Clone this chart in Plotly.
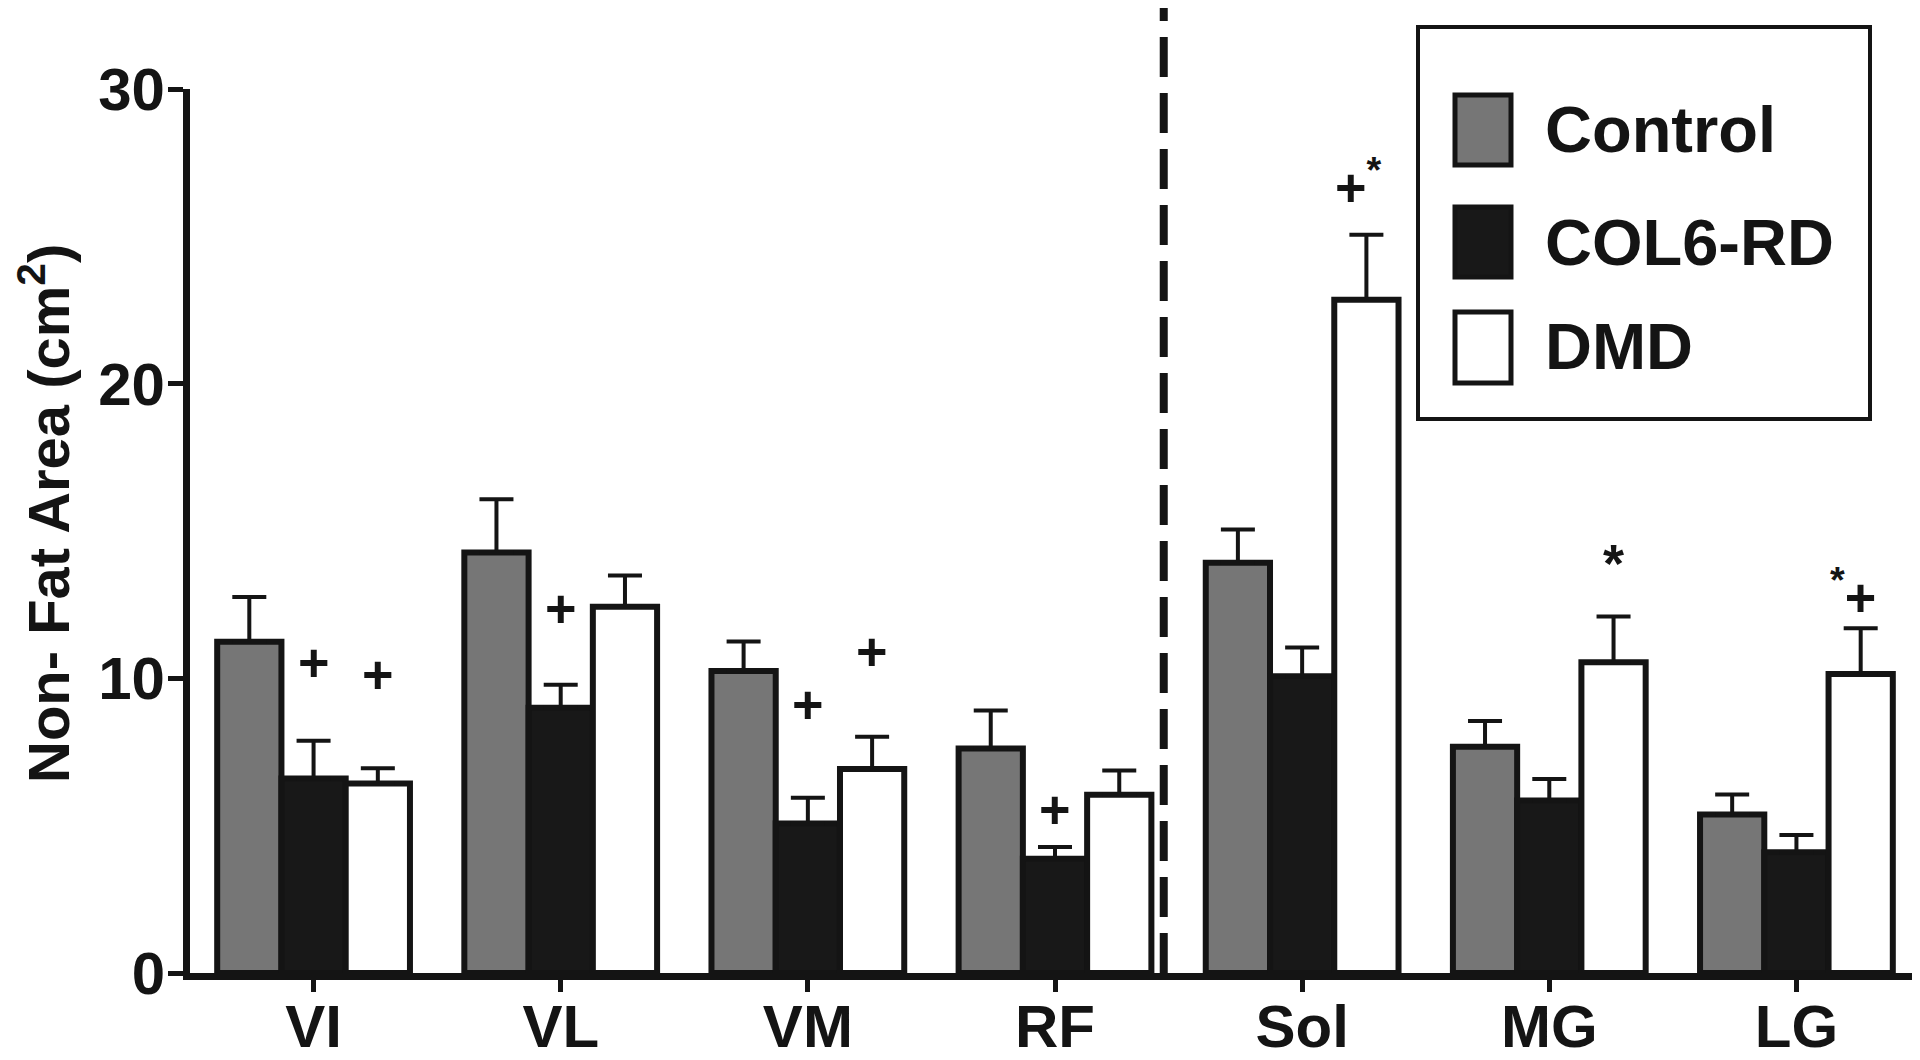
import plotly.graph_objects as go

categories = ["VI", "VL", "VM", "RF", "Sol", "MG", "LG"]
series_names = ["Control", "COL6-RD", "DMD"]

control = [11.24, 14.27, 10.25, 7.62, 13.92, 7.68, 5.38]
control_err = [1.52, 1.81, 1.0, 1.29, 1.13, 0.87, 0.68]
col6 = [6.6, 9.0, 5.07, 3.88, 10.07, 5.85, 4.1]
col6_err = [1.28, 0.78, 0.88, 0.4, 0.98, 0.73, 0.58]
dmd = [6.43, 12.43, 6.92, 6.05, 22.85, 10.55, 10.15]
dmd_err = [0.52, 1.06, 1.1, 0.82, 2.2, 1.55, 1.55]

y_ticks = [0, 10, 20, 30]
y_title = "Non- Fat Area (cm<sup>2</sup>)"

# significance marks: category, series, height, label
sig_category = ["VI", "VI", "VL", "VM", "VM", "RF", "Sol", "MG", "LG"]
sig_series = ["COL6-RD", "DMD", "COL6-RD", "COL6-RD", "DMD", "COL6-RD", "DMD", "DMD", "DMD"]
sig_y = [10.55, 10.14, 12.4, 9.14, 10.93, 5.58, 26.8, 13.9, 12.9]
sig_text = ["+", "+", "+", "+", "+", "+", "+<sup>*</sup>", "*", "<sup>*</sup>+"]

FONT = "Liberation Sans, Arial, Helvetica, sans-serif"
INK = "#141414"
colors = ["#767676", "#181818", "#ffffff"]
values = [control, col6, dmd]
errors = [control_err, col6_err, dmd_err]

fig = go.Figure()
for name, vals, errs, col in zip(series_names, values, errors, colors):
    fig.add_trace(go.Bar(
        name=name, x=categories, y=vals,
        marker=dict(color=col, line=dict(color=INK, width=6)),
        error_y=dict(type="data", array=errs, arrayminus=[0] * len(errs),
                     symmetric=False, color=INK, thickness=4, width=17),
        showlegend=False,
    ))

bargap = 0.22
bar_w = (1 - bargap) / 3
offsets = {n: (i - 1) * bar_w for i, n in enumerate(series_names)}
xshift_extra = {"<sup>*</sup>+": -8, "+<sup>*</sup>": -8}

annotations = []
for c, s, yv, t in zip(sig_category, sig_series, sig_y, sig_text):
    annotations.append(dict(
        x=categories.index(c) + offsets[s], y=yv, xref="x", yref="y",
        text=t, showarrow=False, xanchor="center", yanchor="middle",
        xshift=xshift_extra.get(t, 0),
        font=dict(family=FONT, size=54, color=INK, weight="bold"),
    ))

# page coordinates (window px) -> paper coordinates
def px_to_paper_x(px):
    return (px - 190) / 1730

def px_to_paper_y(py):
    return (973 - py) / 884

# y-axis title
annotations.append(dict(
    x=px_to_paper_x(45), y=px_to_paper_y(514), xref="paper", yref="paper",
    text=y_title, textangle=-90, showarrow=False,
    xanchor="center", yanchor="middle",
    font=dict(family=FONT, size=58, color=INK, weight="bold"),
))

shapes = [
    dict(type="line", xref="x", yref="paper", x0=3.44, x1=3.44, y0=0, y1=1.1,
         line=dict(color=INK, width=8, dash="40px,16px")),
    dict(type="rect", xref="paper", yref="paper",
         x0=px_to_paper_x(1418), x1=px_to_paper_x(1870),
         y0=px_to_paper_y(419), y1=px_to_paper_y(27),
         line=dict(color=INK, width=4), fillcolor="rgba(0,0,0,0)"),
]
legend_rows = [(95, 165, 130), (207, 277, 242), (312, 383, 347)]
for (top, bot, mid), name, col in zip(legend_rows, series_names, colors):
    shapes.append(dict(type="rect", xref="paper", yref="paper",
                       x0=px_to_paper_x(1455), x1=px_to_paper_x(1511),
                       y0=px_to_paper_y(bot), y1=px_to_paper_y(top),
                       line=dict(color=INK, width=5), fillcolor=col))
    annotations.append(dict(
        x=px_to_paper_x(1543), y=px_to_paper_y(mid), xref="paper", yref="paper",
        text=name, showarrow=False, xanchor="left", yanchor="middle",
        font=dict(family=FONT, size=65, color=INK, weight="bold"),
    ))

fig.update_layout(
    width=1912, height=1052,
    margin=dict(l=182, r=0, t=81, b=87),
    paper_bgcolor="white", plot_bgcolor="white",
    barmode="group", bargap=bargap, bargroupgap=0,
    shapes=shapes, annotations=annotations,
    font=dict(family=FONT, color=INK),
)
fig.update_xaxes(
    range=[-0.5, 6.5], showline=True, linecolor=INK, linewidth=7,
    ticks="outside", ticklen=12, tickwidth=5, tickcolor=INK,
    ticklabelstandoff=-17,
    tickfont=dict(family=FONT, size=60, color=INK, weight="bold"),
    showgrid=False, zeroline=False, automargin=False,
)
fig.update_yaxes(
    range=[0, 30], tickvals=y_ticks, showline=True, linecolor=INK, linewidth=7,
    ticks="outside", ticklen=15, tickwidth=5, tickcolor=INK,
    ticklabelstandoff=-9,
    tickfont=dict(family=FONT, size=60, color=INK, weight="bold"),
    showgrid=False, zeroline=False, automargin=False,
)

fig.write_html("out.html")
